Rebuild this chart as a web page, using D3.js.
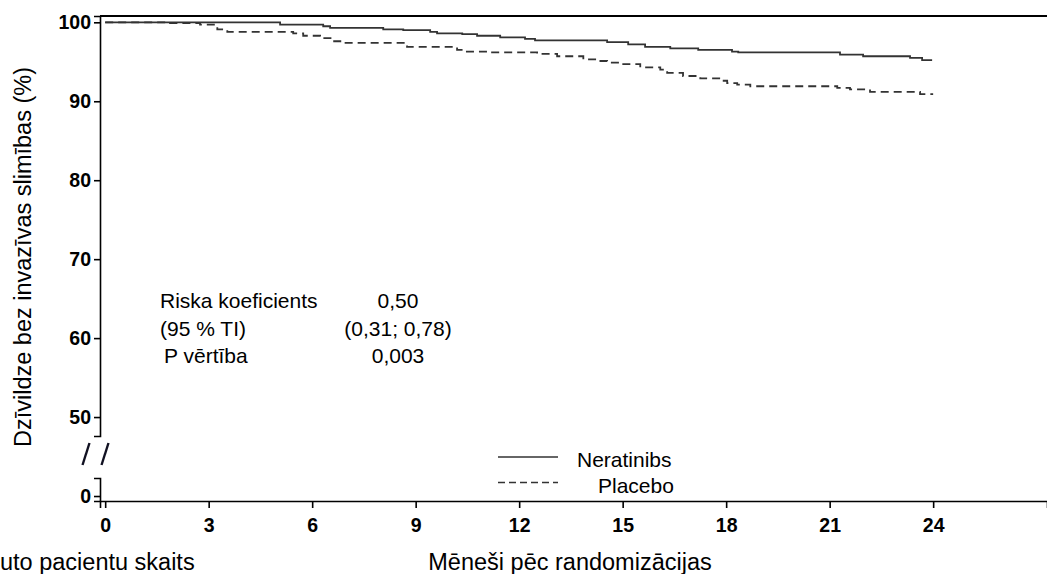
<!DOCTYPE html>
<html>
<head>
<meta charset="utf-8">
<script src="https://cdn.jsdelivr.net/npm/d3@7"></script>
<style>
  body { margin: 0; background: white; }
  text { font-family: "Liberation Sans", Arial, sans-serif; fill: black; }
</style>
</head>
<body>
<div id="container"></div>
<script>
//kaplan-meier steps (months, % without invasive disease)
let neratinibMonths = [0, 5.07, 6.32, 6.52, 8.06, 8.64, 9.42, 9.62, 10.35, 10.78, 11.45, 12.17, 12.46, 14.55, 15.16, 15.65, 16.38, 17.19, 18.17, 18.35, 21.30, 21.97, 23.33, 23.68, 23.97];
let neratinibSurvival = [100, 99.7, 99.5, 99.3, 99.1, 99.0, 98.8, 98.6, 98.5, 98.3, 98.1, 97.9, 97.7, 97.5, 97.2, 96.9, 96.7, 96.5, 96.3, 96.2, 95.9, 95.7, 95.5, 95.2, 95.2];

let placeboMonths = [0, 1.88, 2.75, 3.25, 3.54, 5.45, 5.74, 6.23, 6.61, 6.90, 8.75, 10.20, 10.38, 11.07, 12.52, 13.10, 13.86, 14.26, 14.55, 14.93, 15.51, 16.09, 16.29, 16.75, 17.25, 17.83, 18.03, 18.32, 18.70, 21.22, 21.59, 22.17, 23.62, 24.0];
let placeboSurvival = [100, 99.9, 99.7, 99.1, 98.8, 98.6, 98.3, 98.0, 97.6, 97.4, 96.9, 96.5, 96.3, 96.2, 96.0, 95.7, 95.3, 95.1, 94.9, 94.7, 94.3, 94.0, 93.6, 93.2, 92.9, 92.6, 92.3, 92.1, 91.9, 91.7, 91.5, 91.2, 90.9, 90.9];

let seriesNames = ["Neratinibs", "Placebo"];

let xTicks = [0, 3, 6, 9, 12, 15, 18, 21, 24];
let yTicksUpper = [50, 60, 70, 80, 90, 100];
let yTicksLower = [0];

let statLabels = ["Riska koeficients", "(95 % TI)", "P vērtība"];
let statValues = ["0,50", "(0,31; 0,78)", "0,003"];

let w = 1047;
let h = 574;

let viz = d3.select("#container")
  .append("svg")
    .attr("width", w)
    .attr("height", h)
;

//x axis runs off the right edge, like the original
let xScale = d3.scaleLinear().domain([-0.15, 27.3]).range([100, 1047]);
//y axis is broken: 50-100 on top, a small stub for 0 below
let yUpper = d3.scaleLinear().domain([47.6, 100.8]).range([436, 16]);
let yLower = d3.scaleLinear().domain([-0.63, 2.28]).range([501, 478]);

//top frame line
viz.append("line")
    .attr("x1", xScale.range()[0])
    .attr("x2", xScale.range()[1])
    .attr("y1", yUpper.range()[1])
    .attr("y2", yUpper.range()[1])
    .style("stroke", "black")
    .style("stroke-width", 2)
;

let xAxis = d3.axisBottom(xScale)
  .tickValues(xTicks)
  .tickSizeOuter(0)
  .tickSize(7)
  .tickPadding(10)
;
let xAxisGroup = viz.append("g")
    .attr("transform", "translate(0," + yLower.range()[0] + ")")
    .call(xAxis)
;

let yAxisUpper = d3.axisLeft(yUpper)
  .tickValues(yTicksUpper)
  .tickFormat(d3.format("d"))
  .tickSizeOuter(0)
  .tickSize(6)
  .tickPadding(3)
;
let yAxisUpperGroup = viz.append("g")
    .attr("transform", "translate(" + xScale.range()[0] + ",0)")
    .call(yAxisUpper)
;

let yAxisLower = d3.axisLeft(yLower)
  .tickValues(yTicksLower)
  .tickFormat(d3.format("d"))
  .tickSizeOuter(0)
  .tickSize(6)
  .tickPadding(3)
;
let yAxisLowerGroup = viz.append("g")
    .attr("transform", "translate(" + xScale.range()[0] + ",0)")
    .call(yAxisLower)
;

//same look for all axes
viz.selectAll(".domain, .tick line")
    .style("stroke", "black")
    .style("stroke-width", 1.6)
;
viz.selectAll(".tick text")
    .style("font-size", "19.5px")
    .style("font-weight", "bold")
    .attr("fill", "black")
;

//axis break marks "/ /"
let gapTop = yUpper.range()[0] + 7;
let gapBottom = yLower.range()[1] - 13;
let breakX = [xScale.range()[0] - 14, xScale.range()[0] + 5];
viz.selectAll(".breakMark").data(breakX).enter()
  .append("line")
    .attr("class", "breakMark")
    .attr("x1", function(d){ return d - 3.5; })
    .attr("y1", gapBottom)
    .attr("x2", function(d){ return d + 3.5; })
    .attr("y2", gapTop)
    .style("stroke", "#111122")
    .style("stroke-width", 2.4)
;

//the two curves
let stepLine = d3.line()
  .x(function(d){ return xScale(d[0]); })
  .y(function(d){ return yUpper(d[1]); })
  .curve(d3.curveStepAfter)
;

let neratinibPoints = d3.zip(neratinibMonths, neratinibSurvival);
let placeboPoints = d3.zip(placeboMonths, placeboSurvival);

viz.append("path")
    .attr("d", stepLine(placeboPoints))
    .attr("fill", "none")
    .style("stroke", "#333")
    .style("stroke-width", 1.8)
    .style("stroke-dasharray", "8,5")
;

viz.append("path")
    .attr("d", stepLine(neratinibPoints))
    .attr("fill", "none")
    .style("stroke", "#333")
    .style("stroke-width", 1.8)
;

//legend
let legend = viz.selectAll(".legendItem").data(seriesNames).enter()
  .append("g")
    .attr("class", "legendItem")
    .attr("transform", function(d, i){ return "translate(498," + (457 + i * 25.5) + ")"; })
;
legend.append("line")
    .attr("x1", 0)
    .attr("x2", 60)
    .attr("y1", 0)
    .attr("y2", 0)
    .style("stroke", "#333")
    .style("stroke-width", 1.4)
    .style("stroke-dasharray", function(d, i){ return i == 0 ? null : "7,4"; })
;
legend.append("text")
    .text(function(d){ return d; })
    .attr("x", function(d, i){ return i == 0 ? 79 : 100; })
    .attr("y", 10)
    .style("font-size", "21px")
;

//hazard ratio box
viz.selectAll(".statLabel").data(statLabels).enter()
  .append("text")
    .attr("class", "statLabel")
    .text(function(d){ return d; })
    .attr("x", function(d, i){ return i == 2 ? 164 : 160; })
    .attr("y", function(d, i){ return 308 + i * 27.5; })
    .style("font-size", "21px")
;
viz.selectAll(".statValue").data(statValues).enter()
  .append("text")
    .attr("class", "statValue")
    .text(function(d){ return d; })
    .attr("x", 398)
    .attr("y", function(d, i){ return 308 + i * 27.5; })
    .attr("text-anchor", "middle")
    .style("font-size", "21px")
;

//axis titles
viz.append("text")
    .text("Dzīvildze bez invazīvas slimības (%)")
    .attr("transform", "translate(31,257) rotate(-90)")
    .attr("text-anchor", "middle")
    .style("font-size", "23.5px")
;
viz.append("text")
    .text("Mēneši pēc randomizācijas")
    .attr("x", 570)
    .attr("y", 570)
    .attr("text-anchor", "middle")
    .style("font-size", "23.5px")
;
//only the end of this row title is inside the original picture
viz.append("text")
    .text("uto pacientu skaits")
    .attr("x", 0)
    .attr("y", 570)
    .style("font-size", "23.5px")
;
</script>
</body>
</html>
